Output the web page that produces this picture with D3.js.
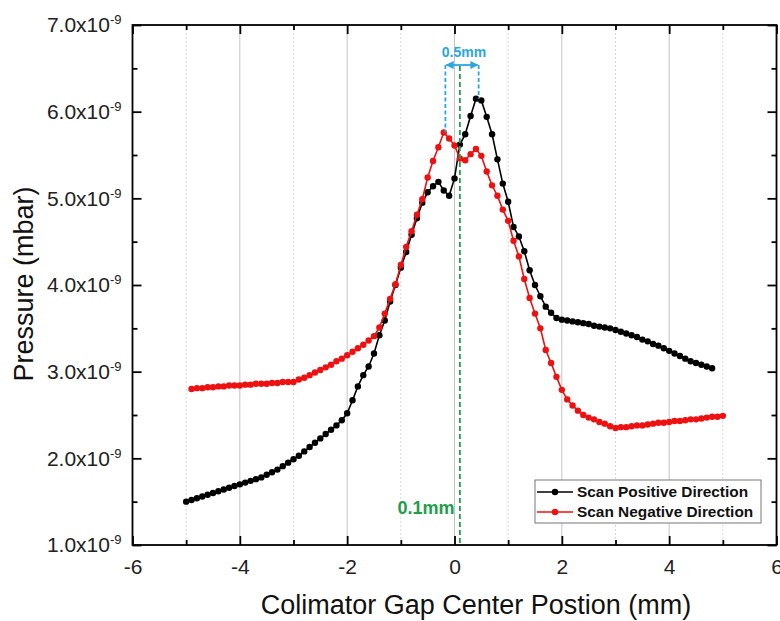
<!DOCTYPE html>
<html>
<head>
<meta charset="utf-8">
<script src="https://cdn.jsdelivr.net/npm/d3@7/dist/d3.min.js"></script>
<style>
body { margin: 0; background: #fff; }
svg { display: block; font-family: "Liberation Sans", Arial, sans-serif; }
</style>
</head>
<body>
<div id="chart"></div>
<script>
// scan positions (mm) and pressure readings (x1e-9 mbar)
const posX = [-5.0,-4.9,-4.8,-4.7,-4.6,-4.5,-4.4,-4.3,-4.2,-4.1,-4.0,-3.9,-3.8,-3.7,-3.6,-3.5,-3.4,-3.3,-3.2,-3.1,
  -3.0,-2.9,-2.8,-2.7,-2.6,-2.5,-2.4,-2.3,-2.2,-2.1,-2.0,-1.9,-1.8,-1.7,-1.6,-1.5,-1.4,-1.3,-1.2,-1.1,
  -1.0,-0.9,-0.8,-0.7,-0.6,-0.5,-0.4,-0.3,-0.2,-0.1,0.0,0.1,0.2,0.3,0.4,0.5,0.6,0.7,0.8,0.9,
  1.0,1.1,1.2,1.3,1.4,1.5,1.6,1.7,1.8,1.9,2.0,2.1,2.2,2.3,2.4,2.5,2.6,2.7,2.8,2.9,
  3.0,3.1,3.2,3.3,3.4,3.5,3.6,3.7,3.8,3.9,4.0,4.1,4.2,4.3,4.4,4.5,4.6,4.7,4.8];
const posP = [1.50,1.52,1.54,1.56,1.58,1.60,1.62,1.64,1.66,1.68,1.70,1.72,1.74,1.76,1.78,1.81,1.84,1.87,1.91,1.95,
  1.99,2.03,2.08,2.13,2.18,2.23,2.28,2.33,2.38,2.44,2.52,2.67,2.83,2.96,3.06,3.21,3.42,3.59,3.81,4.00,
  4.20,4.38,4.58,4.77,4.95,5.07,5.14,5.19,5.09,5.03,5.23,5.62,5.74,5.95,6.15,6.13,5.94,5.74,5.45,5.17,
  4.96,4.67,4.56,4.39,4.17,4.00,3.87,3.75,3.68,3.62,3.60,3.59,3.58,3.57,3.56,3.55,3.53,3.52,3.51,3.50,
  3.48,3.46,3.44,3.42,3.40,3.37,3.35,3.32,3.30,3.27,3.24,3.21,3.18,3.15,3.12,3.10,3.08,3.06,3.04];

const negX = [-4.9,-4.8,-4.7,-4.6,-4.5,-4.4,-4.3,-4.2,-4.1,-4.0,-3.9,-3.8,-3.7,-3.6,-3.5,-3.4,-3.3,-3.2,-3.1,-3.0,
  -2.9,-2.8,-2.7,-2.6,-2.5,-2.4,-2.3,-2.2,-2.1,-2.0,-1.9,-1.8,-1.7,-1.6,-1.5,-1.4,-1.3,-1.2,-1.1,-1.0,
  -0.9,-0.8,-0.7,-0.6,-0.5,-0.4,-0.3,-0.2,-0.1,0.0,0.1,0.2,0.3,0.4,0.5,0.6,0.7,0.8,0.9,1.0,
  1.1,1.2,1.3,1.4,1.5,1.6,1.7,1.8,1.9,2.0,2.1,2.2,2.3,2.4,2.5,2.6,2.7,2.8,2.9,3.0,
  3.1,3.2,3.3,3.4,3.5,3.6,3.7,3.8,3.9,4.0,4.1,4.2,4.3,4.4,4.5,4.6,4.7,4.8,4.9,5.0];
const negP = [2.80,2.81,2.81,2.82,2.82,2.83,2.83,2.84,2.84,2.84,2.85,2.85,2.86,2.86,2.86,2.87,2.87,2.88,2.88,2.88,
  2.91,2.93,2.96,2.99,3.02,3.05,3.08,3.12,3.15,3.19,3.23,3.27,3.31,3.36,3.41,3.51,3.67,3.84,4.01,4.23,
  4.44,4.62,4.81,4.99,5.24,5.43,5.59,5.76,5.69,5.61,5.46,5.44,5.51,5.57,5.49,5.31,5.15,5.03,4.87,4.74,
  4.51,4.33,4.07,3.85,3.67,3.50,3.25,3.10,2.94,2.79,2.68,2.61,2.55,2.50,2.47,2.45,2.42,2.40,2.37,2.35,
  2.36,2.36,2.37,2.38,2.38,2.39,2.40,2.41,2.41,2.42,2.43,2.43,2.44,2.45,2.45,2.46,2.47,2.48,2.48,2.49];

const seriesNames = ['Scan Positive Direction', 'Scan Negative Direction'];
const seriesColors = ['#000000', '#ee1111'];

const xMajor = [-6, -4, -2, 0, 2, 4, 6];
const xMinor = [-5, -3, -1, 1, 3, 5];
const yMajor = [1, 2, 3, 4, 5, 6, 7];
const yMinor = [1.5, 2.5, 3.5, 4.5, 5.5, 6.5];

// annotations
const gapCenter = 0.1;            // green dashed marker
const peakSpan = [-0.17, 0.45];   // blue bracket ends
const peakSpanTop = [5.76, 6.15];
const spanLabel = '0.5mm';
const gapLabel = '0.1mm';

const [svgWidth, svgHeight] = [780, 621];
const plot = { left: 132.5, right: 776.5, top: 25, bottom: 545 };

let svg = d3.select('#chart').append('svg')
  .attr('width', svgWidth)
  .attr('height', svgHeight);

let xScale = d3.scaleLinear().domain([-6, 6]).range([plot.left, plot.right]);
let yScale = d3.scaleLinear().domain([1, 7]).range([plot.bottom, plot.top]);

// vertical grid
svg.append('g').selectAll('line').data(xMajor.slice(1, -1)).enter().append('line')
  .attr('x1', d => xScale(d)).attr('x2', d => xScale(d))
  .attr('y1', plot.top).attr('y2', plot.bottom)
  .style('stroke', '#c4c4c4').style('stroke-width', 1);
svg.append('g').selectAll('line').data(xMinor).enter().append('line')
  .attr('x1', d => xScale(d)).attr('x2', d => xScale(d))
  .attr('y1', plot.top).attr('y2', plot.bottom)
  .style('stroke', '#d6d6d6').style('stroke-width', 1).style('stroke-dasharray', '2,2');

// axes (ticks pointing inward on all four sides)
function axisPair(axisFn, scale, transform, showLabels) {
  let vertical = axisFn === d3.axisLeft || axisFn === d3.axisRight;
  let g = svg.append('g').attr('transform', transform);
  let major = axisFn(scale).tickValues(vertical ? yMajor : xMajor)
    .tickSizeInner(-9).tickSizeOuter(0)
    .tickFormat(showLabels ? (d => String(d)) : '');
  let minor = axisFn(scale).tickValues(vertical ? yMinor : xMinor)
    .tickSizeInner(-5).tickSizeOuter(0).tickFormat('');
  let gm = g.append('g').call(major);
  g.append('g').call(minor);
  g.selectAll('.domain').remove();
  g.selectAll('.tick line').style('stroke', '#000').style('stroke-width', 1.8);
  return gm;
}

let xAxisG = axisPair(d3.axisBottom, xScale, 'translate(0,' + plot.bottom + ')', true);
xAxisG.call(g => g.selectAll('.tick text').attr('y', 14));
axisPair(d3.axisTop, xScale, 'translate(0,' + plot.top + ')', false);
let yAxisG = axisPair(d3.axisLeft, yScale, 'translate(' + plot.left + ',0)', true);
axisPair(d3.axisRight, yScale, 'translate(' + plot.right + ',0)', false);

xAxisG.selectAll('.tick text')
  .style('font-size', '21px').style('fill', '#222')
  .style('font-family', '"Liberation Sans", Arial, sans-serif');

yAxisG.selectAll('.tick text')
  .attr('x', -11)
  .style('font-size', '21px').style('fill', '#222')
  .style('font-family', '"Liberation Sans", Arial, sans-serif')
  .each(function (d) {
    let t = d3.select(this);
    t.text(null);
    t.append('tspan').text(d.toFixed(1) + 'x10');
    t.append('tspan').attr('dy', -8).style('font-size', '13px').text('-9');
  });

// frame
svg.append('rect')
  .attr('x', plot.left).attr('y', plot.top)
  .attr('width', plot.right - plot.left).attr('height', plot.bottom - plot.top)
  .style('fill', 'none').style('stroke', '#000').style('stroke-width', 1.8);

// series
let line = d3.line()
  .x(d => xScale(d[0]))
  .y(d => yScale(d[1]));

const series = [
  d3.zip(posX, posP),
  d3.zip(negX, negP)
];

series.forEach(function (data, i) {
  svg.append('path')
    .datum(data)
    .attr('d', line)
    .style('fill', 'none')
    .style('stroke', seriesColors[i])
    .style('stroke-width', 1.6);
  svg.append('g').selectAll('circle')
    .data(data)
    .enter().append('circle')
    .attr('cx', d => xScale(d[0]))
    .attr('cy', d => yScale(d[1]))
    .attr('r', 3.2)
    .style('fill', seriesColors[i]);
});

// green gap-center marker
const green = '#1e9e4a';
svg.append('line')
  .attr('x1', xScale(gapCenter)).attr('x2', xScale(gapCenter))
  .attr('y1', 66).attr('y2', plot.bottom)
  .style('stroke', green).style('stroke-width', 1.8).style('stroke-dasharray', '5,3');
svg.append('text')
  .attr('x', xScale(0)).attr('y', 514)
  .attr('text-anchor', 'end')
  .style('font-size', '18px').style('font-weight', 'bold').style('fill', green)
  .text(gapLabel);

// blue peak-separation bracket
const blue = '#2ba6de';
let defs = svg.append('defs');
defs.append('marker')
  .attr('id', 'arrow').attr('viewBox', '0 0 10 10')
  .attr('refX', 9).attr('refY', 5)
  .attr('markerWidth', 4.5).attr('markerHeight', 4.5)
  .attr('orient', 'auto-start-reverse')
  .append('path').attr('d', 'M0,0L10,5L0,10z').style('fill', blue);

const bracketY = 65;
peakSpan.forEach(function (px, i) {
  svg.append('line')
    .attr('x1', xScale(px)).attr('x2', xScale(px))
    .attr('y1', bracketY).attr('y2', yScale(peakSpanTop[i]))
    .style('stroke', blue).style('stroke-width', 1.8).style('stroke-dasharray', '4,2.5');
});
svg.append('line')
  .attr('x1', xScale(peakSpan[0]) + 1).attr('x2', xScale(peakSpan[1]) - 1)
  .attr('y1', bracketY).attr('y2', bracketY)
  .attr('marker-start', 'url(#arrow)').attr('marker-end', 'url(#arrow)')
  .style('stroke', blue).style('stroke-width', 1.8);
svg.append('text')
  .attr('x', (xScale(peakSpan[0]) + xScale(peakSpan[1])) / 2 + 2).attr('y', 57)
  .attr('text-anchor', 'middle')
  .style('font-size', '14px').style('font-weight', 'bold').style('fill', blue)
  .text(spanLabel);

// legend
let legend = svg.append('g').attr('transform', 'translate(535,480)');
legend.append('rect')
  .attr('width', 226).attr('height', 43)
  .style('fill', '#fff').style('stroke', '#777').style('stroke-width', 1);
seriesNames.forEach(function (name, i) {
  let row = legend.append('g').attr('transform', 'translate(0,' + (12 + i * 20) + ')');
  row.append('line').attr('x1', 2).attr('x2', 38).attr('y1', 0).attr('y2', 0)
    .style('stroke', seriesColors[i]).style('stroke-width', 1.6);
  row.append('circle').attr('cx', 20).attr('cy', 0).attr('r', 3.2).style('fill', seriesColors[i]);
  row.append('text').attr('x', 42).attr('y', 5)
    .style('font-size', '15.4px').style('font-weight', 'bold').style('fill', '#111')
    .text(name);
});

// axis titles
svg.append('text')
  .attr('x', 476).attr('y', 614)
  .attr('text-anchor', 'middle')
  .style('font-size', '27px').style('fill', '#111')
  .text('Colimator Gap Center Postion (mm)');
svg.append('text')
  .attr('transform', 'translate(33,284) rotate(-90)')
  .attr('text-anchor', 'middle')
  .style('font-size', '27px').style('fill', '#111')
  .text('Pressure (mbar)');
</script>
</body>
</html>
